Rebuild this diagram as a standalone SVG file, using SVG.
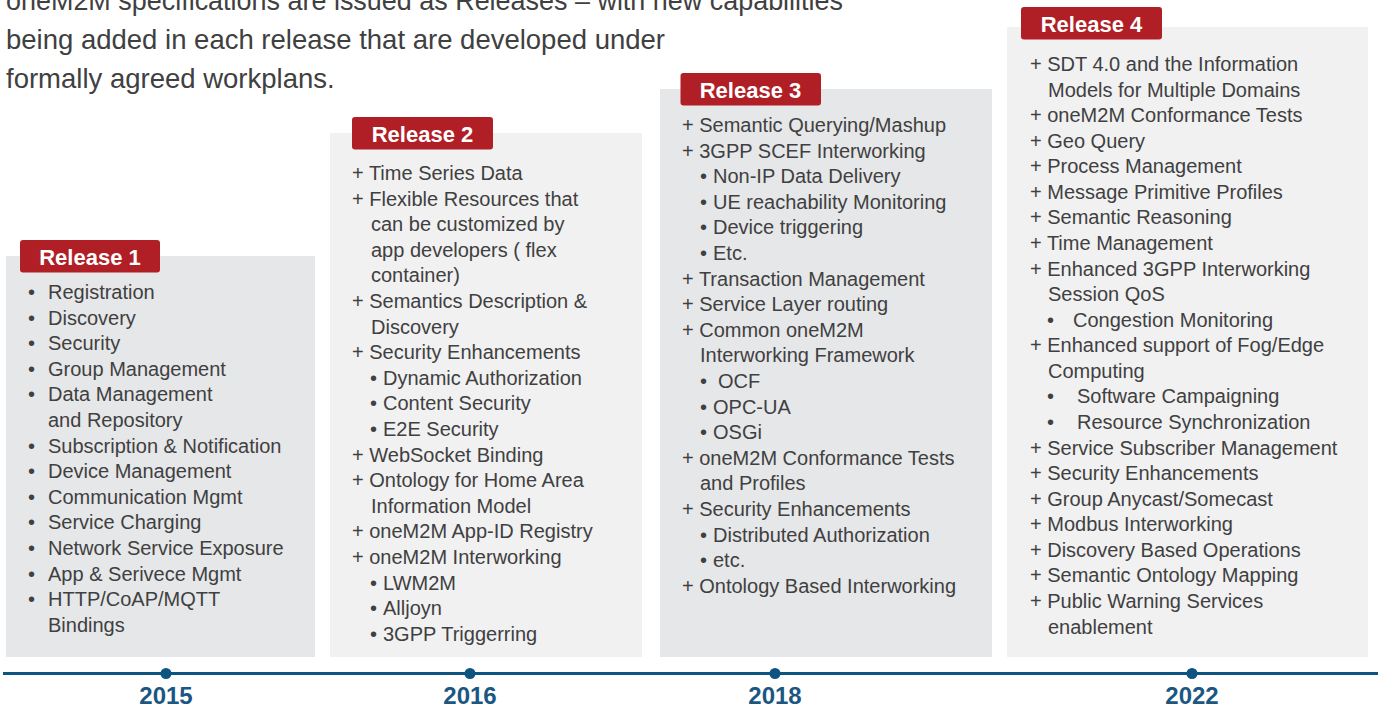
<svg xmlns="http://www.w3.org/2000/svg" width="1381" height="707" viewBox="0 0 1381 707">
<style>
  text { font-family: "Liberation Sans", Arial, sans-serif; }
  .hdr { font-size: 27.5px; fill: #404041; }
  .item { font-size: 20px; fill: #404041; }
  .lbl { fill: #b11f26; }
  .lbltxt { font-size: 22px; font-weight: bold; fill: #ffffff; text-anchor: middle; }
  .boxA { fill: #e6e7e8; }
  .boxB { fill: #f1f1f1; }
  .tl { stroke: #0e5482; stroke-width: 3; fill: none; }
  .dot { fill: #0e5482; }
  .year { font-size: 24px; font-weight: bold; fill: #1b5781; text-anchor: middle; }
</style>

<g id="header">
  <text class="hdr" x="6" y="10" textLength="837" lengthAdjust="spacingAndGlyphs">oneM2M specifications are issued as Releases – with new capabilities</text>
  <text class="hdr" x="6" y="49">being added in each release that are developed under</text>
  <text class="hdr" x="6" y="87.5">formally agreed workplans.</text>
</g>

<g id="release1">
  <rect class="boxA" x="6" y="256" width="309" height="401"/>
  <rect class="lbl" x="20" y="240" width="140" height="32.5" rx="3"/>
  <text class="lbltxt" x="90" y="264.5">Release 1</text>
  <text class="item">
    <tspan x="28" y="299">•</tspan><tspan x="48" y="299">Registration</tspan>
    <tspan x="28" y="324.6">•</tspan><tspan x="48" y="324.6">Discovery</tspan>
    <tspan x="28" y="350.2">•</tspan><tspan x="48" y="350.2">Security</tspan>
    <tspan x="28" y="375.8">•</tspan><tspan x="48" y="375.8">Group Management</tspan>
    <tspan x="28" y="401.4">•</tspan><tspan x="48" y="401.4">Data Management</tspan>
    <tspan x="48" y="427">and Repository</tspan>
    <tspan x="28" y="452.6">•</tspan><tspan x="48" y="452.6">Subscription &amp; Notification</tspan>
    <tspan x="28" y="478.2">•</tspan><tspan x="48" y="478.2">Device Management</tspan>
    <tspan x="28" y="503.8">•</tspan><tspan x="48" y="503.8">Communication Mgmt</tspan>
    <tspan x="28" y="529.4">•</tspan><tspan x="48" y="529.4">Service Charging</tspan>
    <tspan x="28" y="555">•</tspan><tspan x="48" y="555">Network Service Exposure</tspan>
    <tspan x="28" y="580.6">•</tspan><tspan x="48" y="580.6">App &amp; Serivece Mgmt</tspan>
    <tspan x="28" y="606.2">•</tspan><tspan x="48" y="606.2">HTTP/CoAP/MQTT</tspan>
    <tspan x="48" y="631.8">Bindings</tspan>
  </text>
</g>

<g id="release2">
  <rect class="boxB" x="330" y="133" width="312" height="524"/>
  <rect class="lbl" x="352" y="117" width="141" height="32.5" rx="3"/>
  <text class="lbltxt" x="422.5" y="141.5">Release 2</text>
  <text class="item">
    <tspan x="352" y="180">+ Time Series Data</tspan>
    <tspan x="352" y="205.6">+ Flexible Resources that</tspan>
    <tspan x="371" y="231.2">can be customized by</tspan>
    <tspan x="371" y="256.8">app developers ( flex</tspan>
    <tspan x="371" y="282.4">container)</tspan>
    <tspan x="352" y="308">+ Semantics Description &amp;</tspan>
    <tspan x="371" y="333.6">Discovery</tspan>
    <tspan x="352" y="359.2">+ Security Enhancements</tspan>
    <tspan x="370" y="384.8">•</tspan><tspan x="383" y="384.8">Dynamic Authorization</tspan>
    <tspan x="370" y="410.4">•</tspan><tspan x="383" y="410.4">Content Security</tspan>
    <tspan x="370" y="436">•</tspan><tspan x="383" y="436">E2E Security</tspan>
    <tspan x="352" y="461.6">+ WebSocket Binding</tspan>
    <tspan x="352" y="487.2">+ Ontology for Home Area</tspan>
    <tspan x="371" y="512.8">Information Model</tspan>
    <tspan x="352" y="538.4">+ oneM2M App-ID Registry</tspan>
    <tspan x="352" y="564">+ oneM2M Interworking</tspan>
    <tspan x="370" y="589.6">•</tspan><tspan x="383" y="589.6">LWM2M</tspan>
    <tspan x="370" y="615.2">•</tspan><tspan x="383" y="615.2">Alljoyn</tspan>
    <tspan x="370" y="640.8">•</tspan><tspan x="383" y="640.8">3GPP Triggerring</tspan>
  </text>
</g>

<g id="release3">
  <rect class="boxA" x="660" y="89" width="332" height="568"/>
  <rect class="lbl" x="680.5" y="73" width="140.5" height="32.5" rx="3"/>
  <text class="lbltxt" x="750.5" y="97.5">Release 3</text>
  <text class="item">
    <tspan x="682" y="132">+ Semantic Querying/Mashup</tspan>
    <tspan x="682" y="157.6">+ 3GPP SCEF Interworking</tspan>
    <tspan x="700" y="183.2">•</tspan><tspan x="713" y="183.2">Non-IP Data Delivery</tspan>
    <tspan x="700" y="208.8">•</tspan><tspan x="713" y="208.8">UE reachability Monitoring</tspan>
    <tspan x="700" y="234.4">•</tspan><tspan x="713" y="234.4">Device triggering</tspan>
    <tspan x="700" y="260">•</tspan><tspan x="713" y="260">Etc.</tspan>
    <tspan x="682" y="285.6">+ Transaction Management</tspan>
    <tspan x="682" y="311.2">+ Service Layer routing</tspan>
    <tspan x="682" y="336.8">+ Common oneM2M</tspan>
    <tspan x="700" y="362.4">Interworking Framework</tspan>
    <tspan x="700" y="388">•</tspan><tspan x="718" y="388">OCF</tspan>
    <tspan x="700" y="413.6">•</tspan><tspan x="713" y="413.6">OPC-UA</tspan>
    <tspan x="700" y="439.2">•</tspan><tspan x="713" y="439.2">OSGi</tspan>
    <tspan x="682" y="464.8">+ oneM2M Conformance Tests</tspan>
    <tspan x="700" y="490.4">and Profiles</tspan>
    <tspan x="682" y="516">+ Security Enhancements</tspan>
    <tspan x="700" y="541.6">•</tspan><tspan x="713" y="541.6">Distributed Authorization</tspan>
    <tspan x="700" y="567.2">•</tspan><tspan x="713" y="567.2">etc.</tspan>
    <tspan x="682" y="592.8">+ Ontology Based Interworking</tspan>
  </text>
</g>

<g id="release4">
  <rect class="boxB" x="1007" y="27" width="361" height="630"/>
  <rect class="lbl" x="1021" y="7" width="141" height="32.5" rx="3"/>
  <text class="lbltxt" x="1091.5" y="31.5">Release 4</text>
  <text class="item">
    <tspan x="1030" y="71">+ SDT 4.0 and the Information</tspan>
    <tspan x="1048" y="96.6">Models for Multiple Domains</tspan>
    <tspan x="1030" y="122.1">+ oneM2M Conformance Tests</tspan>
    <tspan x="1030" y="147.7">+ Geo Query</tspan>
    <tspan x="1030" y="173.3">+ Process Management</tspan>
    <tspan x="1030" y="198.9">+ Message Primitive Profiles</tspan>
    <tspan x="1030" y="224.4">+ Semantic Reasoning</tspan>
    <tspan x="1030" y="250">+ Time Management</tspan>
    <tspan x="1030" y="275.6">+ Enhanced 3GPP Interworking</tspan>
    <tspan x="1048" y="301.1">Session QoS</tspan>
    <tspan x="1047" y="326.7">•</tspan><tspan x="1073" y="326.7">Congestion Monitoring</tspan>
    <tspan x="1030" y="352.3">+ Enhanced support of Fog/Edge</tspan>
    <tspan x="1048" y="377.8">Computing</tspan>
    <tspan x="1047" y="403.4">•</tspan><tspan x="1077" y="403.4">Software Campaigning</tspan>
    <tspan x="1047" y="429">•</tspan><tspan x="1077" y="429">Resource Synchronization</tspan>
    <tspan x="1030" y="454.6">+ Service Subscriber Management</tspan>
    <tspan x="1030" y="480.1">+ Security Enhancements</tspan>
    <tspan x="1030" y="505.7">+ Group Anycast/Somecast</tspan>
    <tspan x="1030" y="531.3">+ Modbus Interworking</tspan>
    <tspan x="1030" y="556.8">+ Discovery Based Operations</tspan>
    <tspan x="1030" y="582.4">+ Semantic Ontology Mapping</tspan>
    <tspan x="1030" y="608">+ Public Warning Services</tspan>
    <tspan x="1048" y="633.5">enablement</tspan>
  </text>
</g>

<g id="timeline">
  <line class="tl" x1="3" y1="673.5" x2="1378" y2="673.5"/>
  <circle class="dot" cx="166" cy="673.5" r="5.5"/>
  <circle class="dot" cx="470" cy="673.5" r="5.5"/>
  <circle class="dot" cx="775" cy="673.5" r="5.5"/>
  <circle class="dot" cx="1192" cy="673.5" r="5.5"/>
  <text class="year" x="166" y="704">2015</text>
  <text class="year" x="470" y="704">2016</text>
  <text class="year" x="775" y="704">2018</text>
  <text class="year" x="1192" y="704">2022</text>
</g>
</svg>
